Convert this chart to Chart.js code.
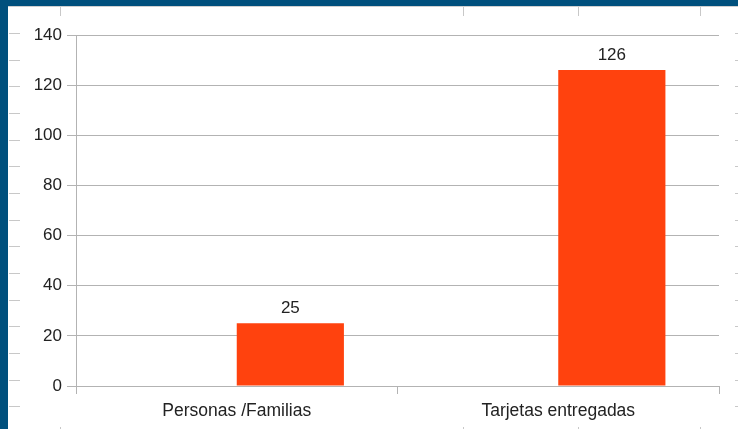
<!DOCTYPE html>
<html>
<head>
<meta charset="utf-8">
<script src="https://cdn.jsdelivr.net/npm/chart.js@4/dist/chart.umd.min.js"></script>
<style>
  html, body { margin: 0; padding: 0; background: #fff; overflow: hidden; }
  canvas { display: block; }
</style>
</head>
<body>
<canvas id="bar-chart" width="738" height="429"></canvas>
<script>
// data
const categories = ['Personas /Familias', 'Tarjetas entregadas'];
const emptySeries = [null, null];   // first series has no values, only takes space
const values = [25, 126];
const yMin = 0, yMax = 140, yStep = 20;

const gridGray = '#b3b3b3';
const textColor = '#222';
const fontFamily = '"Liberation Sans", Arial, sans-serif';
const font = { family: fontFamily, size: 17 };
const catFont = { family: fontFamily, size: 17.5 };

// page frame: blue border and the ruler marks of the document
const framePlugin = {
  id: 'frame',
  beforeDraw(chart) {
    const c = chart.ctx;
    c.save();
    c.fillStyle = '#fff';
    c.fillRect(0, 0, 738, 429);
    c.fillStyle = '#00507d';
    c.fillRect(0, 0, 738, 6);
    c.fillRect(0, 0, 8, 429);
    c.fillStyle = '#d0d0d0';
    c.fillRect(8, 6, 730, 1);
    c.strokeStyle = '#c8c8c8';
    c.lineWidth = 1;
    c.beginPath();
    for (let i = 0; i < 15; i++) {
      const y = Math.round(33 + i * 26.67) + 0.5;
      c.moveTo(9, y); c.lineTo(20, y);
      c.moveTo(735, y); c.lineTo(738, y);
    }
    [60, 463, 578, 700].forEach(x => {
      c.moveTo(x + 0.5, 7); c.lineTo(x + 0.5, 16);
      c.moveTo(x + 0.5, 427); c.lineTo(x + 0.5, 429);
    });
    c.stroke();
    c.restore();
  }
};

// value labels above the bars
const labelPlugin = {
  id: 'valueLabels',
  afterDatasetsDraw(chart) {
    const c = chart.ctx;
    const meta = chart.getDatasetMeta(1);
    c.save();
    c.fillStyle = textColor;
    c.font = font.size + 'px ' + font.family;
    c.textAlign = 'center';
    c.textBaseline = 'alphabetic';
    meta.data.forEach((bar, i) => {
      c.fillText(String(values[i]), bar.x, bar.y - 10);
    });
    c.restore();
  }
};

new Chart(document.getElementById('bar-chart'), {
  type: 'bar',
  data: {
    labels: categories,
    datasets: [{
      label: 'Serie 1',
      data: emptySeries,
      backgroundColor: '#004586'
    }, {
      label: 'Serie 2',
      data: values,
      backgroundColor: '#ff420e'
    }]
  },
  options: {
    responsive: false,
    animation: false,
    devicePixelRatio: 1,
    categoryPercentage: 2 / 3,
    barPercentage: 1,
    layout: { padding: { top: 35, right: 19, bottom: 0, left: 0 } },
    plugins: {
      legend: { display: false },
      tooltip: { enabled: false }
    },
    scales: {
      x: {
        afterFit(scale) { scale.height = 43; },
        grid: {
          offset: true,
          color: ctx => (ctx.index === 0 || ctx.index === categories.length) ? gridGray : 'rgba(0,0,0,0)',
          tickColor: gridGray,
          tickLength: 8
        },
        border: { color: gridGray },
        ticks: { color: textColor, font: catFont, padding: 7 }
      },
      y: {
        min: yMin,
        max: yMax,
        afterFit(scale) { scale.width = 76; },
        grid: { color: gridGray, tickLength: 9 },
        border: { color: gridGray },
        ticks: { stepSize: yStep, color: textColor, font: font, padding: 5 }
      }
    }
  },
  plugins: [framePlugin, labelPlugin]
});
</script>
</body>
</html>
